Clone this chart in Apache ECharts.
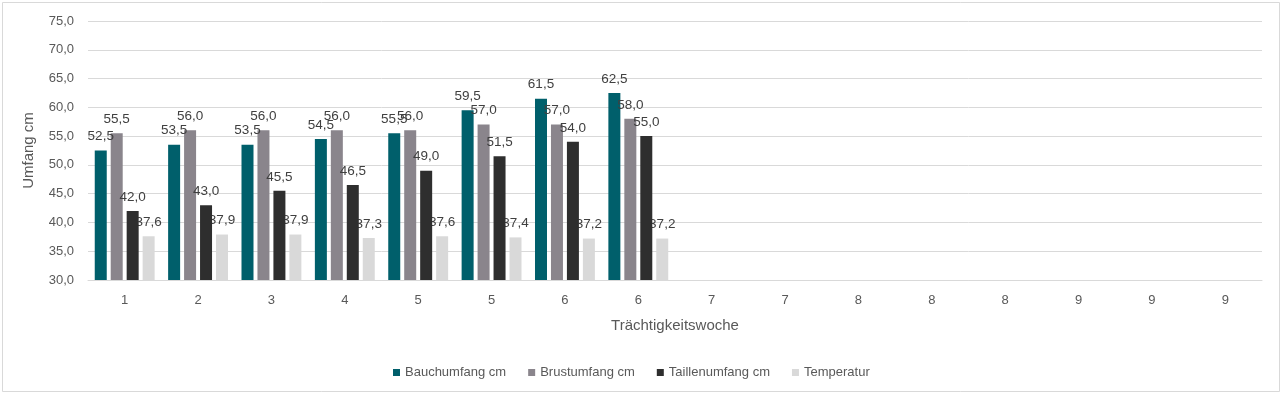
<!DOCTYPE html>
<html><head><meta charset="utf-8">
<script src="https://cdn.jsdelivr.net/npm/echarts@6/dist/echarts.min.js"></script>
<style>html,body{margin:0;padding:0;background:#fff}#c{width:1282px;height:395px}</style>
</head><body><div id="c"></div>
<script>
const categories = ['1','2','3','4','5','5','6','6','7','7','8','8','8','9','9','9'];
const bauchumfang = [52.5, 53.5, 53.5, 54.5, 55.5, 59.5, 61.5, 62.5, null, null, null, null, null, null, null, null];
const brustumfang = [55.5, 56.0, 56.0, 56.0, 56.0, 57.0, 57.0, 58.0, null, null, null, null, null, null, null, null];
const taillenumfang = [42.0, 43.0, 45.5, 46.5, 49.0, 51.5, 54.0, 55.0, null, null, null, null, null, null, null, null];
const temperatur = [37.6, 37.9, 37.9, 37.3, 37.6, 37.4, 37.2, 37.2, null, null, null, null, null, null, null, null];
const seriesNames = ['Bauchumfang cm', 'Brustumfang cm', 'Taillenumfang cm', 'Temperatur'];
const colors = ['#005F6B', '#8A858C', '#2E2E2E', '#D9D9D9'];

const FONT = 'Liberation Sans';
const fmt = v => (v == null ? '' : v.toFixed(1).replace('.', ','));
function mk(name, data, color, z) {
  return {
    name, type: 'bar', data, barWidth: 12, barGap: '33%', z,
    itemStyle: { color },
    label: { show: true, position: 'top', distance: 7, color: '#404040', fontSize: 13.5, fontFamily: FONT,
      formatter: p => fmt(p.value) },
    emphasis: { disabled: true }
  };
}
const chart = echarts.init(document.getElementById('c'), null, { renderer: 'canvas' });
chart.setOption({
  animation: false,
  backgroundColor: '#fff',
  textStyle: { fontFamily: FONT },
  graphic: [{ type: 'rect', shape: { x: 2.5, y: 2.5, width: 1277, height: 389 }, style: { fill: 'none', stroke: '#D9D9D9', lineWidth: 1 }, silent: true }],
  grid: { left: 88, right: 20, top: 21, bottom: 115 },
  legend: {
    left: 388, top: 361, icon: 'rect', itemWidth: 7, itemHeight: 7, itemGap: 22,
    textStyle: { color: '#595959', fontSize: 13, fontFamily: FONT },
    data: seriesNames
  },
  xAxis: {
    type: 'category', data: categories,
    name: 'Trächtigkeitswoche', nameLocation: 'middle', nameGap: 38,
    nameTextStyle: { color: '#595959', fontSize: 15, fontFamily: FONT },
    axisLine: { lineStyle: { color: '#D9D9D9' } },
    axisTick: { show: false },
    axisLabel: { color: '#595959', fontSize: 13, margin: 14, fontFamily: FONT }
  },
  yAxis: {
    type: 'value', min: 30, max: 75, interval: 5,
    name: 'Umfang cm', nameLocation: 'middle', nameGap: 52, nameRotate: 90,
    nameTextStyle: { color: '#595959', fontSize: 15, fontFamily: FONT },
    axisLine: { show: false }, axisTick: { show: false },
    axisLabel: { color: '#595959', fontSize: 13, margin: 14, fontFamily: FONT, formatter: v => fmt(v) },
    splitLine: { lineStyle: { color: '#D9D9D9' } }
  },
  series: [
    mk(seriesNames[0], bauchumfang, colors[0], 2),
    mk(seriesNames[1], brustumfang, colors[1], 2),
    mk(seriesNames[2], taillenumfang, colors[2], 2),
    mk(seriesNames[3], temperatur, colors[3], 1)
  ]
});
</script></body></html>
